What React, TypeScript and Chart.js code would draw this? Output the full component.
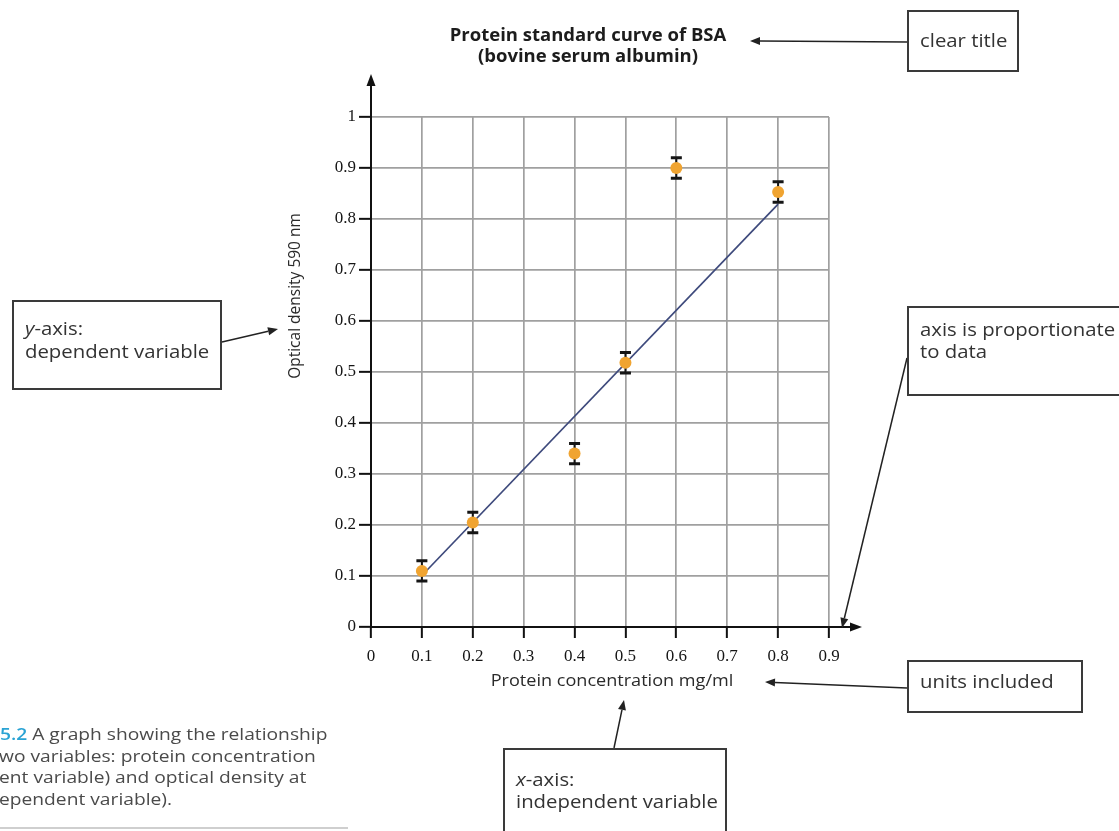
import React, { useEffect, useRef } from 'react';
import { Chart, registerables } from 'chart.js';

Chart.register(...registerables);

// ---- data ----
const concentrations = [0.1, 0.2, 0.4, 0.5, 0.6, 0.8];
const opticalDensity = [0.11, 0.205, 0.34, 0.518, 0.9, 0.853];
const errorMargins = [0.02, 0.02, 0.02, 0.02, 0.02, 0.02];
const fitX = [0.1, 0.8];
const fitY = [0.101, 0.829];
const xTickLabels = ['0', '0.1', '0.2', '0.3', '0.4', '0.5', '0.6', '0.7', '0.8', '0.9'];
const yTickLabels = ['0', '0.1', '0.2', '0.3', '0.4', '0.5', '0.6', '0.7', '0.8', '0.9', '1'];
const titleLines = ['Protein standard curve of BSA', '(bovine serum albumin)'];
const xAxisTitle = 'Protein concentration mg/ml';
const yAxisTitle = 'Optical density 590 nm';

const SANS = '"Open Sans", "Noto Sans", sans-serif';
const SERIF = '"Liberation Serif", "DejaVu Serif", serif';
const STRETCH = 1.13;

function arrow(ctx: CanvasRenderingContext2D, x1: number, y1: number, x2: number, y2: number, head = 10, half = 4, lw = 1.5, color = '#222') {
  const ang = Math.atan2(y2 - y1, x2 - x1);
  const bx = x2 - Math.cos(ang) * head;
  const by = y2 - Math.sin(ang) * head;
  ctx.save();
  ctx.strokeStyle = color;
  ctx.fillStyle = color;
  ctx.lineWidth = lw;
  ctx.beginPath();
  ctx.moveTo(x1, y1);
  ctx.lineTo(bx, by);
  ctx.stroke();
  ctx.beginPath();
  ctx.moveTo(x2, y2);
  ctx.lineTo(bx + Math.sin(ang) * half, by - Math.cos(ang) * half);
  ctx.lineTo(bx - Math.sin(ang) * half, by + Math.cos(ang) * half);
  ctx.closePath();
  ctx.fill();
  ctx.restore();
}

const errorBarPlugin = {
  id: 'errorBars',
  beforeDatasetsDraw(chart: any) {
    const { ctx, scales } = chart;
    const xs = scales.x;
    const ys = scales.y;
    ctx.save();
    ctx.strokeStyle = '#151515';
    concentrations.forEach((cx, i) => {
      const px = xs.getPixelForValue(cx);
      const pt = ys.getPixelForValue(opticalDensity[i] + errorMargins[i]);
      const pb = ys.getPixelForValue(opticalDensity[i] - errorMargins[i]);
      ctx.lineWidth = 2;
      ctx.beginPath();
      ctx.moveTo(px, pt);
      ctx.lineTo(px, pb);
      ctx.stroke();
      ctx.lineWidth = 3;
      ctx.beginPath();
      ctx.moveTo(px - 5.5, pt);
      ctx.lineTo(px + 5.5, pt);
      ctx.moveTo(px - 5.5, pb);
      ctx.lineTo(px + 5.5, pb);
      ctx.stroke();
    });
    ctx.restore();
  },
};

const decorPlugin = {
  id: 'decor',
  afterDraw(chart: any) {
    const { ctx, scales, chartArea } = chart;
    const xs = scales.x;
    const ys = scales.y;
    const x0 = xs.getPixelForValue(0);
    const y0 = ys.getPixelForValue(0);
    // axis extensions with arrowheads
    ctx.save();
    ctx.strokeStyle = '#111';
    ctx.lineWidth = 2;
    ctx.beginPath();
    ctx.moveTo(x0, chartArea.top);
    ctx.lineTo(x0, chartArea.top - 30);
    ctx.moveTo(chartArea.right, y0);
    ctx.lineTo(chartArea.right + 22, y0);
    ctx.stroke();
    ctx.restore();
    arrow(ctx, x0, chartArea.top - 20, x0, chartArea.top - 43, 12, 4.5, 2, '#111');
    arrow(ctx, chartArea.right + 15, y0, chartArea.right + 33, y0, 12, 4.5, 2, '#111');

    // axis titles
    ctx.save();
    ctx.fillStyle = '#2a2a2a';
    ctx.font = `16px ${SANS}`;
    ctx.textAlign = 'center';
    ctx.textBaseline = 'middle';
    ctx.translate(612, 681);
    ctx.scale(STRETCH, 1);
    ctx.fillText(xAxisTitle, 0, 0);
    ctx.restore();

    ctx.save();
    ctx.fillStyle = '#2a2a2a';
    ctx.font = `15.5px ${SANS}`;
    ctx.textAlign = 'center';
    ctx.textBaseline = 'middle';
    ctx.translate(296, 296);
    ctx.rotate(-Math.PI / 2);
    ctx.fillText(yAxisTitle, 0, 0);
    ctx.restore();

    // annotation arrows
    arrow(ctx, 907, 42, 750, 41);
    arrow(ctx, 222, 342, 278, 329);
    arrow(ctx, 907, 358, 842, 628);
    arrow(ctx, 907, 688, 765, 682);
    arrow(ctx, 614, 748, 624, 700);
  },
};

function TextLine(props: { x: number; y: number; size?: number; color?: string; children: React.ReactNode }) {
  const { x, y, size = 18, color = '#333', children } = props;
  return (
    <div
      style={{
        position: 'absolute',
        left: x,
        top: y - 14,
        height: 24,
        lineHeight: '24px',
        fontFamily: SANS,
        fontSize: size,
        color,
        whiteSpace: 'nowrap',
        transform: `scaleX(${STRETCH})`,
        transformOrigin: 'left center',
      }}
    >
      {children}
    </div>
  );
}

function Box(props: { l: number; t: number; w: number; h: number }) {
  const { l, t, w, h } = props;
  return (
    <div
      style={{
        position: 'absolute',
        left: l,
        top: t,
        width: w,
        height: h,
        border: '2px solid #3a3a3a',
        boxSizing: 'border-box',
      }}
    />
  );
}

export default function App() {
  const canvasRef = useRef<HTMLCanvasElement | null>(null);

  useEffect(() => {
    document.body.style.margin = '0';
    const canvas = canvasRef.current;
    if (!canvas) return;
    const gridOpts = { color: '#a0a0a0', lineWidth: 1.7, tickColor: '#111', tickWidth: 2 };
    const chart = new Chart(canvas, {
      type: 'scatter',
      data: {
        datasets: [
          {
            type: 'line',
            label: 'Linear fit',
            data: fitX.map((x, i) => ({ x, y: fitY[i] })),
            borderColor: '#3e4a7c',
            borderWidth: 1.7,
            pointRadius: 0,
            fill: false,
            order: 2,
          } as any,
          {
            type: 'scatter',
            label: 'BSA',
            data: concentrations.map((x, i) => ({ x, y: opticalDensity[i] })),
            backgroundColor: '#f0a431',
            borderColor: '#e9992a',
            borderWidth: 0,
            pointRadius: 6,
            order: 1,
          },
        ],
      },
      options: {
        animation: false,
        responsive: false,
        maintainAspectRatio: false,
        devicePixelRatio: 1,
        layout: { padding: { left: 328, right: 271, top: 0, bottom: 154 } },
        plugins: {
          legend: { display: false },
          tooltip: { enabled: false },
          title: {
            display: true,
            text: titleLines,
            color: '#1c1c1c',
            font: { family: SANS, size: 18.5, weight: 'bold', lineHeight: 1.135 },
            padding: { top: 25, bottom: 50 },
          },
        },
        scales: {
          x: {
            type: 'linear',
            min: 0,
            max: 0.9,
            ticks: {
              stepSize: 0.1,
              autoSkip: false,
              maxRotation: 0,
              padding: 8,
              color: '#151515',
              font: { family: SERIF, size: 17 },
              callback: (_v: any, i: number) => xTickLabels[i],
            },
            grid: { ...gridOpts, tickLength: 11 },
            border: { color: '#111', width: 2 },
            afterFit: (s: any) => {
              s.height = 50;
            },
          },
          y: {
            type: 'linear',
            position: 'left',
            min: 0,
            max: 1,
            ticks: {
              stepSize: 0.1,
              autoSkip: false,
              padding: 3,
              color: '#151515',
              font: { family: SERIF, size: 17 },
              callback: (_v: any, i: number) => yTickLabels[i],
            },
            grid: { ...gridOpts, tickLength: 12 },
            border: { color: '#111', width: 2 },
            afterFit: (s: any) => {
              s.width = 43;
            },
          },
          // empty spacer on the right so the full-width title centres where the reference has it
          spacer: {
            type: 'linear',
            position: 'right',
            display: true,
            min: 0,
            max: 1,
            grid: { display: false, drawTicks: false },
            border: { display: false },
            ticks: { display: false },
            afterFit: (s: any) => {
              s.width = 19;
            },
          },
        },
      },
      plugins: [errorBarPlugin, decorPlugin],
    });
    return () => chart.destroy();
  }, []);

  return (
    <div style={{ position: 'fixed', left: 0, top: 0, width: 1119, height: 831, overflow: 'hidden', background: '#fff' }}>
      <canvas ref={canvasRef} width={1119} height={831} style={{ position: 'absolute', left: 0, top: 0 }} />

      {/* clear title */}
      <Box l={907} t={10} w={112} h={62} />
      <TextLine x={920} y={42}>clear title</TextLine>

      {/* y-axis */}
      <Box l={12} t={300} w={210} h={90} />
      <TextLine x={25} y={330}>
        <i>y</i>-axis:
      </TextLine>
      <TextLine x={25} y={353}>dependent variable</TextLine>

      {/* axis is proportionate */}
      <Box l={907} t={306} w={230} h={90} />
      <TextLine x={920} y={331}>axis is proportionate</TextLine>
      <TextLine x={920} y={353}>to data</TextLine>

      {/* units included */}
      <Box l={907} t={660} w={176} h={53} />
      <TextLine x={920} y={683}>units included</TextLine>

      {/* x-axis */}
      <Box l={503} t={748} w={224} h={100} />
      <TextLine x={516} y={781}>
        <i>x</i>-axis:
      </TextLine>
      <TextLine x={516} y={803}>independent variable</TextLine>

      {/* caption (cropped at the left edge) */}
      <TextLine x={0} y={736} size={17} color="#4a4a4a">
        <span style={{ color: '#2aa3d4', fontWeight: 600 }}>5.2</span> A graph showing the relationship
      </TextLine>
      <TextLine x={-1} y={758} size={17} color="#4a4a4a">wo variables: protein concentration</TextLine>
      <TextLine x={-1} y={779} size={17} color="#4a4a4a">ent variable) and optical density at</TextLine>
      <TextLine x={-1} y={801} size={17} color="#4a4a4a">ependent variable).</TextLine>
      <div style={{ position: 'absolute', left: 0, top: 827, width: 348, height: 2, background: '#cfcfcf' }} />
    </div>
  );
}
